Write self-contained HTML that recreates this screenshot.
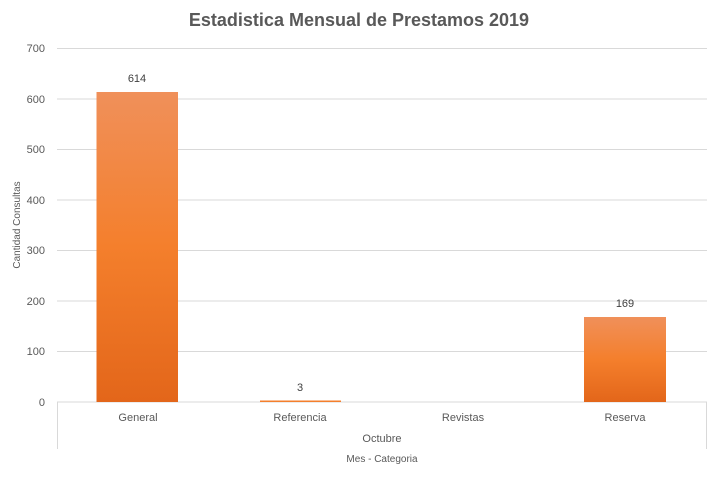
<!DOCTYPE html>
<html><head><meta charset="utf-8"><style>
body{margin:0;background:#fff;}
svg{display:block;font-family:"Liberation Sans",sans-serif;}
</style></head><body>
<svg width="718" height="478" viewBox="0 0 718 478" xmlns="http://www.w3.org/2000/svg">
<defs>
<linearGradient id="g" x1="0" y1="0" x2="0" y2="1">
<stop offset="0" stop-color="#f0905a"/>
<stop offset="0.5" stop-color="#f47f2c"/>
<stop offset="1" stop-color="#e3661a"/>
</linearGradient>
</defs>
<rect width="718" height="478" fill="#fff"/>
<text x="359" y="26" text-anchor="middle" font-size="18" font-weight="bold" fill="#595959">Estadistica Mensual de Prestamos 2019</text>
<g stroke="#d9d9d9" stroke-width="1">
<line x1="57" y1="48.5" x2="707" y2="48.5"/>
<line x1="57" y1="99" x2="707" y2="99"/>
<line x1="57" y1="149.5" x2="707" y2="149.5"/>
<line x1="57" y1="200" x2="707" y2="200"/>
<line x1="57" y1="250.5" x2="707" y2="250.5"/>
<line x1="57" y1="301" x2="707" y2="301"/>
<line x1="57" y1="351.5" x2="707" y2="351.5"/>
<line x1="57" y1="402" x2="707" y2="402"/>
<line x1="57.5" y1="402" x2="57.5" y2="449"/>
<line x1="706.5" y1="402" x2="706.5" y2="449"/>
</g>
<g font-size="11" fill="#595959" text-anchor="end">
<text x="45" y="52">700</text>
<text x="45" y="103">600</text>
<text x="45" y="153">500</text>
<text x="45" y="204">400</text>
<text x="45" y="254">300</text>
<text x="45" y="305">200</text>
<text x="45" y="355">100</text>
<text x="45" y="406">0</text>
</g>
<text transform="translate(20,225) rotate(-90)" text-anchor="middle" font-size="10" fill="#595959">Cantidad Consultas</text>
<rect x="96.5" y="92" width="81.5" height="310" fill="url(#g)"/>
<rect x="260" y="400.5" width="81" height="1.5" fill="#f47f2c"/>
<rect x="584" y="317" width="82" height="85" fill="url(#g)"/>
<g font-size="11" fill="#404040" text-anchor="middle">
<text x="137" y="82">614</text>
<text x="300" y="391">3</text>
<text x="625" y="307">169</text>
</g>
<g font-size="11" fill="#595959" text-anchor="middle">
<text x="138" y="421">General</text>
<text x="300" y="421">Referencia</text>
<text x="463" y="421">Revistas</text>
<text x="625" y="421">Reserva</text>
<text x="382" y="442">Octubre</text>
<text x="382" y="462" font-size="10">Mes - Categoria</text>
</g>
</svg>
</body></html>
